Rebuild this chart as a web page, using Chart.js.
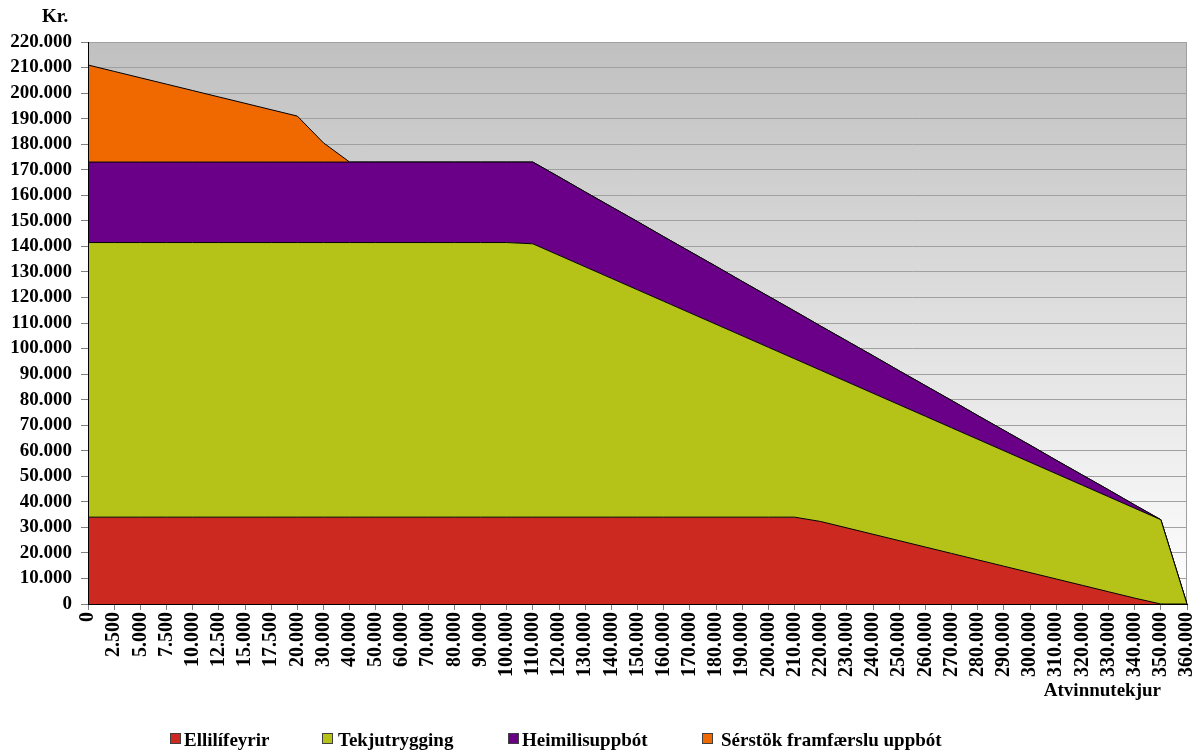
<!DOCTYPE html>
<html lang="is">
<head>
  <meta charset="UTF-8" />
  <title>Atvinnutekjur og lífeyrir</title>
  <script src="https://cdn.jsdelivr.net/npm/chart.js"></script>
  <style>
    body {
      margin: 0;
      background: #ffffff;
    }
    #wrap {
      width: 1200px;
      height: 753px;
    }
  </style>
</head>
<body>
  <div id="wrap">
    <canvas id="chart" width="1200" height="753"></canvas>
  </div>

  <script>
    // x categories (atvinnutekjur, kr.)
    const incomeLabels = [
      0, 2500, 5000, 7500, 10000, 12500, 15000, 17500, 20000,
      30000, 40000, 50000, 60000, 70000, 80000, 90000, 100000, 110000,
      120000, 130000, 140000, 150000, 160000, 170000, 180000, 190000, 200000,
      210000, 220000, 230000, 240000, 250000, 260000, 270000, 280000, 290000,
      300000, 310000, 320000, 330000, 340000, 350000, 360000
    ];

    const ellilifeyrir = [
      34000, 34000, 34000, 34000, 34000, 34000, 34000, 34000, 34000,
      34000, 34000, 34000, 34000, 34000, 34000, 34000, 34000, 34000,
      34000, 34000, 34000, 34000, 34000, 34000, 34000, 34000, 34000,
      34000, 32300, 29800, 27300, 24800, 22300, 19800, 17300, 14800,
      12300, 9800, 7300, 4800, 2300, 0, 0
    ];

    const tekjutrygging = [
      107500, 107500, 107500, 107500, 107500, 107500, 107500, 107500, 107500,
      107500, 107500, 107500, 107500, 107500, 107500, 107500, 107500, 107000,
      102500, 98000, 93500, 89000, 84500, 80000, 75500, 71000, 66500,
      62000, 59200, 57200, 55200, 53200, 51200, 49200, 47200, 45200,
      43200, 41200, 39200, 37200, 35200, 33000, 0
    ];

    const heimilisuppbot = [
      31500, 31500, 31500, 31500, 31500, 31500, 31500, 31500, 31500,
      31500, 31500, 31500, 31500, 31500, 31500, 31500, 31500, 32000,
      30700, 29300, 28000, 26700, 25300, 24000, 22700, 21300, 20000,
      18700, 17300, 16000, 14700, 13300, 12000, 10700, 9300, 8000,
      6700, 5300, 4000, 2700, 1300, 0, 0
    ];

    const serstokUppbot = [
      38000, 35500, 33000, 30500, 28000, 25500, 23000, 20500, 18000,
      7500, 0, 0, 0, 0, 0, 0, 0, 0,
      0, 0, 0, 0, 0, 0, 0, 0, 0,
      0, 0, 0, 0, 0, 0, 0, 0, 0,
      0, 0, 0, 0, 0, 0, 0
    ];

    const seriesNames = ['Ellilífeyrir', 'Tekjutrygging', 'Heimilisuppbót', 'Sérstök framfærslu uppbót'];
    const seriesColors = ['#cc2a20', '#b5c318', '#6a0088', '#f06800'];

    function fmt(v) {
      return String(v).replace(/\B(?=(\d{3})+(?!\d))/g, '.');
    }

    const FONT = '"Liberation Serif", "Times New Roman", serif';

    // gradient behind the plot + grey frame
    const plotBg = {
      id: 'plotBg',
      beforeDraw(chart) {
        const { ctx, chartArea: a } = chart;
        const g = ctx.createLinearGradient(0, a.top, 0, a.bottom);
        g.addColorStop(0, '#c0c0c0');
        g.addColorStop(1, '#ffffff');
        ctx.save();
        ctx.fillStyle = g;
        ctx.fillRect(a.left, a.top, a.right - a.left, a.bottom - a.top);
        ctx.strokeStyle = '#a0a0a0';
        ctx.lineWidth = 1;
        ctx.strokeRect(a.left + 0.5, a.top + 0.5, a.right - a.left - 1, a.bottom - a.top);
        ctx.restore();
      },
      afterDatasetsDraw(chart) {
        // left axis line
        const { ctx, chartArea: a } = chart;
        ctx.save();
        ctx.strokeStyle = '#000';
        ctx.lineWidth = 1;
        ctx.beginPath();
        ctx.moveTo(a.left + 0.5, a.top);
        ctx.lineTo(a.left + 0.5, a.bottom);
        ctx.stroke();
        ctx.restore();
      }
    };

    // axis titles and legend, placed like the original
    const extras = {
      id: 'extras',
      afterDraw(chart) {
        const ctx = chart.ctx;
        ctx.save();
        ctx.fillStyle = '#000';
        ctx.textBaseline = 'alphabetic';
        ctx.font = 'bold 19px ' + FONT;
        ctx.textAlign = 'left';
        ctx.fillText('Kr.', 42, 22);
        ctx.textAlign = 'right';
        ctx.fillText('Atvinnutekjur', 1161, 696);

        const keyX = [170, 322, 508, 702];
        const textX = [184, 338, 522, 721];
        ctx.textAlign = 'left';
        chart.data.datasets.forEach((ds, i) => {
          const x = keyX[i];
          ctx.fillStyle = ds.backgroundColor;
          ctx.fillRect(x, 733, 11, 11);
          ctx.strokeStyle = '#404040';
          ctx.lineWidth = 1;
          ctx.strokeRect(x + 0.5, 733.5, 10, 10);
          ctx.fillStyle = '#000';
          ctx.fillText(ds.label, textX[i], 746);
        });
        ctx.restore();
      }
    };

    const allSeries = [ellilifeyrir, tekjutrygging, heimilisuppbot, serstokUppbot];

    const datasets = allSeries.map((data, i) => ({
      label: seriesNames[i],
      data: data,
      backgroundColor: seriesColors[i],
      borderColor: '#000000',
      borderWidth: 1,
      pointRadius: 0,
      tension: 0,
      fill: i === 0 ? 'origin' : '-1'
    }));

    new Chart(document.getElementById('chart'), {
      type: 'line',
      data: { labels: incomeLabels.map(fmt), datasets },
      options: {
        responsive: false,
        animation: false,
        layout: { padding: { top: 42, right: 0, left: 0, bottom: 0 } },
        plugins: {
          legend: { display: false },
          tooltip: { enabled: false }
        },
        scales: {
          x: {
            grid: {
              drawOnChartArea: false,
              drawTicks: true,
              tickLength: 6,
              color: '#808080'
            },
            border: { color: '#000000', width: 1 },
            ticks: {
              autoSkip: false,
              minRotation: 90,
              maxRotation: 90,
              padding: 2,
              color: '#000',
              font: { family: FONT, size: 20, weight: 'bold' }
            },
            afterFit(scale) {
              scale.height = 149;
              scale.paddingRight = 13;
            }
          },
          y: {
            stacked: true,
            min: 0,
            max: 220000,
            grid: {
              color: '#a0a0a0',
              tickLength: 7,
              tickColor: '#808080'
            },
            border: { display: false },
            ticks: {
              autoSkip: false,
              stepSize: 10000,
              padding: 9,
              color: '#000',
              font: { family: FONT, size: 19, weight: 'bold' },
              callback: v => fmt(v)
            },
            afterFit(scale) { scale.width = 88; }
          }
        }
      },
      plugins: [plotBg, extras]
    });
  </script>
</body>
</html>
